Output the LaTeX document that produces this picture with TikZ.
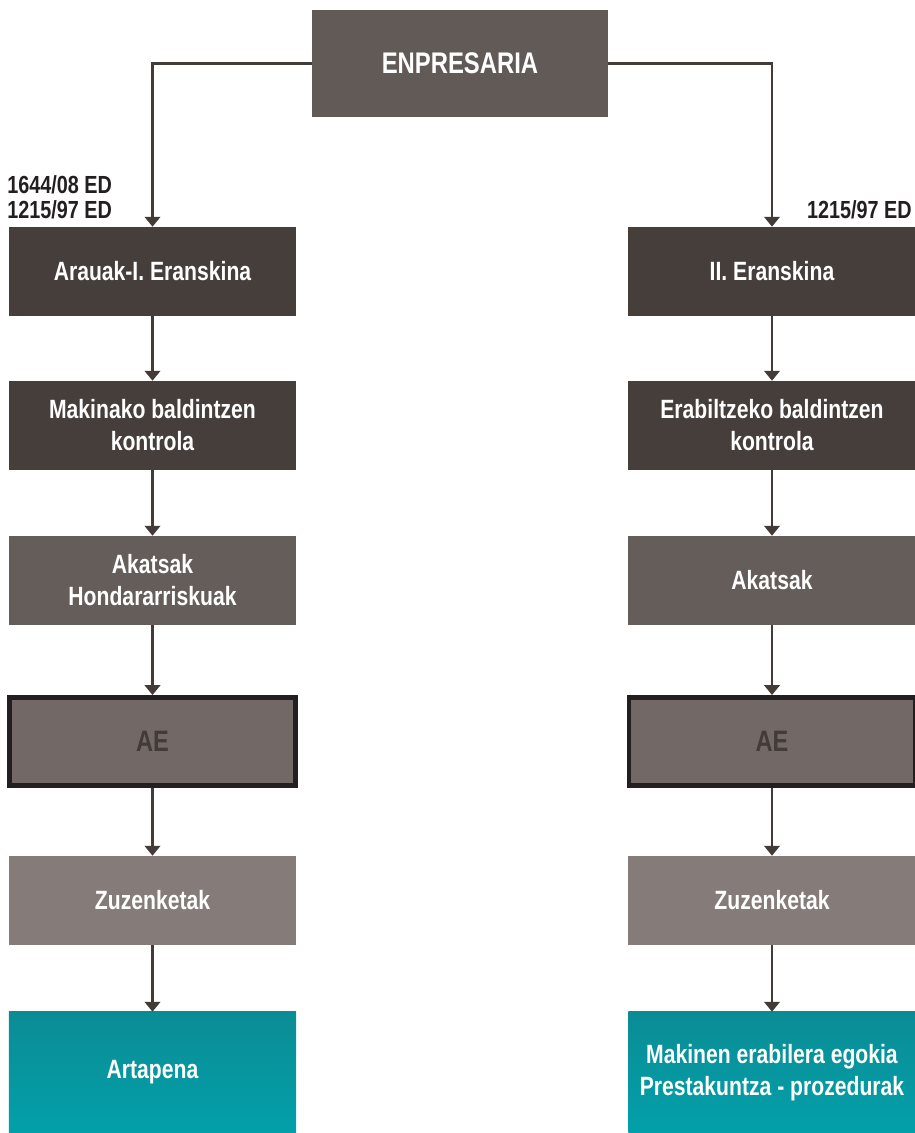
\documentclass[tikz,border=0pt]{standalone}
\usepackage{fontspec}
\setmainfont{Liberation Sans}[FakeStretch=0.8]
\usepackage{tikz}
\usetikzlibrary{arrows.meta}
\definecolor{topgrey}{HTML}{625A57}
\definecolor{darkgrey}{HTML}{463E3B}
\definecolor{midgrey}{HTML}{655D5A}
\definecolor{aegrey}{HTML}{726967}
\definecolor{lightgrey}{HTML}{857C79}
\definecolor{linegrey}{HTML}{433B38}
\definecolor{tealtop}{HTML}{0B8C95}
\definecolor{tealbot}{HTML}{02A0AA}
\definecolor{inkblack}{HTML}{231F20}
\tikzstyle{box} = [rectangle, 
minimum width=7.175cm, 
minimum height=2.225cm, 
inner sep=0pt,
align=center, 
text=white, 
font=\bfseries\fontsize{18.8}{22.7}\selectfont]
\tikzstyle{aebox} = [box, 
fill=aegrey, 
draw=inkblack, 
line width=3.5pt, 
minimum width=7.15cm, 
minimum height=2.2cm, 
text=linegrey, 
font=\bfseries\fontsize{21}{24}\selectfont]
\tikzstyle{tealbox} = [box, 
minimum height=3.025cm, 
top color=tealtop, 
bottom color=tealbot]
\tikzstyle{lbl} = [inner sep=0pt, text=inkblack, 
font=\bfseries\fontsize{17.6}{17.8}\selectfont]
\tikzstyle{arrow} = [line width=1.6pt, draw=linegrey, -{Triangle[width=11pt,length=7pt]}]

\begin{document}
\begin{tikzpicture}[x=0.025cm, y=-0.025cm]
\useasboundingbox (0,0) rectangle (915,1133);

\node (top) [box, fill=topgrey, minimum width=7.4cm, minimum height=2.675cm, font=\bfseries\fontsize{21.2}{24}\selectfont] at (460,63.5) {ENPRESARIA};

% left column
\node (a1) [box, fill=darkgrey] at (152.5,271.5) {Arauak-I. Eranskina};
\node (a2) [box, fill=darkgrey] at (152.5,425.5) {Makinako baldintzen\\kontrola};
\node (a3) [box, fill=midgrey] at (152.5,580.5) {Akatsak\\Hondararriskuak};
\node (a4) [aebox] at (152.5,741.5) {AE};
\node (a5) [box, fill=lightgrey] at (152.5,900.5) {Zuzenketak};
\node (a6) [tealbox] at (152.5,1072.5) {Artapena};

% right column
\node (b1) [box, fill=darkgrey] at (772,271.5) {II. Eranskina};
\node (b2) [box, fill=darkgrey] at (772,425.5) {Erabiltzeko baldintzen\\kontrola};
\node (b3) [box, fill=midgrey] at (772,580.5) {Akatsak};
\node (b4) [aebox] at (772,741.5) {AE};
\node (b5) [box, fill=lightgrey] at (772,900.5) {Zuzenketak};
\node (b6) [tealbox] at (772,1072.5) {Makinen erabilera egokia\\Prestakuntza - prozedurak};

% labels
\node (lblA) [lbl, anchor=north west, align=left] at (7,175) {1644/08 ED\\1215/97 ED};
\node (lblB) [lbl, anchor=north east, align=right] at (912,200) {1215/97 ED};

\draw [arrow] (top.west) -| (a1.north);
\draw [arrow] (top.east) -| (b1.north);
\draw [arrow] (a1) -- (a2);
\draw [arrow] (a2) -- (a3);
\draw [arrow] (a3) -- (a4);
\draw [arrow] (a4) -- (a5);
\draw [arrow] (a5) -- (a6);
\draw [arrow] (b1) -- (b2);
\draw [arrow] (b2) -- (b3);
\draw [arrow] (b3) -- (b4);
\draw [arrow] (b4) -- (b5);
\draw [arrow] (b5) -- (b6);

\end{tikzpicture}
\end{document}
